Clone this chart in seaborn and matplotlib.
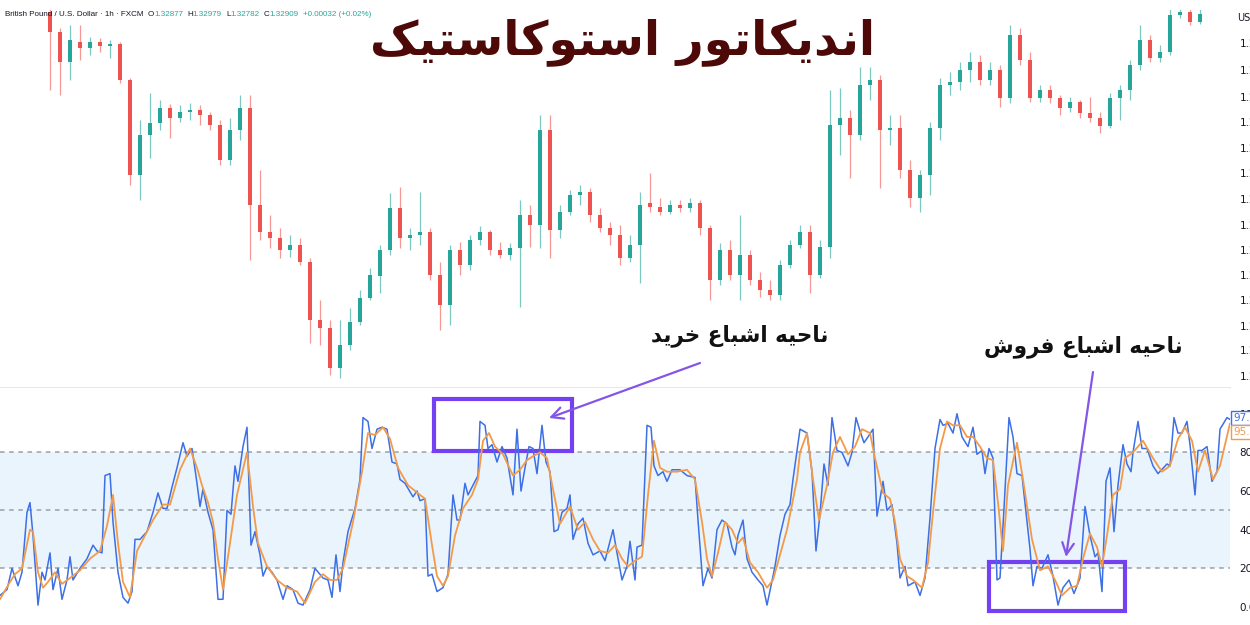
import numpy as np
import matplotlib
matplotlib.use("Agg")
import matplotlib.pyplot as plt
from matplotlib.patches import Rectangle
import seaborn as sns

# GBP/USD 1h candles (one candle per 2 bars of the original chart)
open_ = [1.2388, 1.2368, 1.2338, 1.2358, 1.2352, 1.2358, 1.2354, 1.2356, 1.2320, 1.2225,
         1.2265, 1.2277, 1.2292, 1.2282, 1.2288, 1.2290, 1.2285, 1.2275, 1.2240, 1.2270,
         1.2292, 1.2195, 1.2168, 1.2162, 1.2150, 1.2155, 1.2138, 1.2080, 1.2072, 1.2032,
         1.2055, 1.2078, 1.2102, 1.2124, 1.2150, 1.2192, 1.2162, 1.2165, 1.2168, 1.2125,
         1.2095, 1.2150, 1.2135, 1.2160, 1.2168, 1.2150, 1.2145, 1.2152, 1.2185, 1.2175,
         1.2270, 1.2170, 1.2188, 1.2205, 1.2208, 1.2185, 1.2172, 1.2165, 1.2142, 1.2155,
         1.2197, 1.2193, 1.2188, 1.2195, 1.2192, 1.2197, 1.2172, 1.2120, 1.2150, 1.2125,
         1.2145, 1.2120, 1.2110, 1.2105, 1.2135, 1.2155, 1.2168, 1.2125, 1.2153, 1.2275,
         1.2282, 1.2265, 1.2315, 1.2320, 1.2270, 1.2272, 1.2230, 1.2202, 1.2225, 1.2272,
         1.2315, 1.2318, 1.2330, 1.2338, 1.2320, 1.2330, 1.2302, 1.2365, 1.2340, 1.2302,
         1.2310, 1.2302, 1.2292, 1.2298, 1.2287, 1.2282, 1.2274, 1.2302, 1.2310, 1.2335,
         1.2360, 1.2342, 1.2348, 1.2385, 1.2388, 1.2378]
high = [1.2392, 1.2372, 1.2375, 1.2375, 1.2363, 1.2362, 1.2360, 1.2358, 1.2322, 1.2280,
        1.2307, 1.2300, 1.2296, 1.2295, 1.2297, 1.2295, 1.2288, 1.2280, 1.2282, 1.2305,
        1.2305, 1.2230, 1.2185, 1.2172, 1.2165, 1.2162, 1.2142, 1.2100, 1.2080, 1.2080,
        1.2092, 1.2110, 1.2132, 1.2155, 1.2207, 1.2213, 1.2172, 1.2208, 1.2172, 1.2138,
        1.2155, 1.2158, 1.2165, 1.2174, 1.2170, 1.2158, 1.2157, 1.2200, 1.2195, 1.2285,
        1.2285, 1.2195, 1.2210, 1.2215, 1.2212, 1.2192, 1.2178, 1.2175, 1.2165, 1.2208,
        1.2227, 1.2202, 1.2200, 1.2200, 1.2202, 1.2200, 1.2175, 1.2157, 1.2160, 1.2185,
        1.2150, 1.2128, 1.2120, 1.2140, 1.2160, 1.2175, 1.2175, 1.2160, 1.2310, 1.2312,
        1.2290, 1.2333, 1.2333, 1.2325, 1.2285, 1.2285, 1.2240, 1.2230, 1.2278, 1.2322,
        1.2328, 1.2338, 1.2348, 1.2345, 1.2338, 1.2335, 1.2375, 1.2372, 1.2348, 1.2315,
        1.2315, 1.2305, 1.2303, 1.2300, 1.2303, 1.2288, 1.2307, 1.2315, 1.2340, 1.2375,
        1.2365, 1.2355, 1.2395, 1.2395, 1.2395, 1.2392]
low = [1.2310, 1.2305, 1.2320, 1.2340, 1.2345, 1.2348, 1.2342, 1.2317, 1.2215, 1.2200,
       1.2242, 1.2270, 1.2262, 1.2278, 1.2280, 1.2275, 1.2270, 1.2235, 1.2235, 1.2260,
       1.2140, 1.2160, 1.2152, 1.2142, 1.2143, 1.2135, 1.2057, 1.2055, 1.2025, 1.2022,
       1.2050, 1.2075, 1.2100, 1.2107, 1.2145, 1.2152, 1.2150, 1.2155, 1.2120, 1.2070,
       1.2075, 1.2125, 1.2130, 1.2155, 1.2145, 1.2142, 1.2140, 1.2093, 1.2153, 1.2152,
       1.2142, 1.2162, 1.2185, 1.2195, 1.2178, 1.2168, 1.2155, 1.2135, 1.2138, 1.2117,
       1.2188, 1.2185, 1.2186, 1.2188, 1.2188, 1.2165, 1.2100, 1.2115, 1.2120, 1.2100,
       1.2115, 1.2103, 1.2100, 1.2100, 1.2132, 1.2152, 1.2107, 1.2122, 1.2142, 1.2245,
       1.2222, 1.2260, 1.2300, 1.2212, 1.2255, 1.2222, 1.2193, 1.2188, 1.2205, 1.2260,
       1.2305, 1.2310, 1.2318, 1.2315, 1.2315, 1.2293, 1.2297, 1.2335, 1.2298, 1.2298,
       1.2297, 1.2285, 1.2288, 1.2282, 1.2278, 1.2267, 1.2272, 1.2280, 1.2300, 1.2330,
       1.2338, 1.2338, 1.2345, 1.2382, 1.2375, 1.2376]
close = [1.2368, 1.2338, 1.2360, 1.2352, 1.2358, 1.2354, 1.2356, 1.2320, 1.2225, 1.2265,
         1.2277, 1.2292, 1.2282, 1.2288, 1.2290, 1.2285, 1.2275, 1.2240, 1.2270, 1.2292,
         1.2195, 1.2168, 1.2162, 1.2150, 1.2155, 1.2138, 1.2080, 1.2072, 1.2032, 1.2055,
         1.2078, 1.2102, 1.2125, 1.2150, 1.2192, 1.2162, 1.2165, 1.2168, 1.2125, 1.2095,
         1.2150, 1.2135, 1.2160, 1.2168, 1.2150, 1.2145, 1.2152, 1.2185, 1.2175, 1.2270,
         1.2170, 1.2188, 1.2205, 1.2208, 1.2185, 1.2172, 1.2165, 1.2142, 1.2155, 1.2195,
         1.2193, 1.2188, 1.2195, 1.2192, 1.2197, 1.2172, 1.2120, 1.2150, 1.2125, 1.2145,
         1.2120, 1.2110, 1.2105, 1.2135, 1.2155, 1.2168, 1.2125, 1.2153, 1.2275, 1.2282,
         1.2265, 1.2315, 1.2320, 1.2270, 1.2272, 1.2230, 1.2202, 1.2225, 1.2272, 1.2315,
         1.2318, 1.2330, 1.2338, 1.2320, 1.2330, 1.2302, 1.2365, 1.2340, 1.2302, 1.2310,
         1.2302, 1.2292, 1.2298, 1.2287, 1.2282, 1.2274, 1.2302, 1.2310, 1.2335, 1.2360,
         1.2342, 1.2348, 1.2385, 1.2388, 1.2378, 1.2386]
price_ticks = [1.2357, 1.2330, 1.2303, 1.2278, 1.2252, 1.2227, 1.2201, 1.2175, 1.2150,
               1.2125, 1.2100, 1.2074, 1.2050, 1.2024]

# Stochastic (14, 1, 3): %K (blue) and %D (orange), time in candle units
k_time = [-5.0, -4.3, -3.8, -3.2, -2.8, -2.3, -2.0, -1.7, -1.3, -1.2,
          -0.8, -0.5, 0.0, 0.3, 0.8, 1.2, 1.7, 2.0, 2.3, 3.0,
          3.7, 4.3, 4.7, 5.2, 5.5, 6.0, 6.3, 6.8, 7.3, 7.8,
          8.2, 8.5, 9.0, 9.7, 10.3, 10.8, 11.3, 11.7, 12.2, 12.7,
          13.3, 13.7, 14.2, 14.7, 15.0, 15.3, 15.8, 16.3, 16.8, 17.3,
          17.7, 18.1, 18.5, 18.8, 19.3, 19.7, 20.1, 20.5, 21.0, 21.3,
          21.7, 22.2, 22.7, 23.3, 23.7, 24.3, 24.8, 25.3, 26.0, 26.5,
          27.3, 27.8, 28.2, 28.6, 29.0, 29.3, 29.8, 30.5, 31.0, 31.3,
          31.8, 32.2, 32.7, 33.2, 33.7, 34.2, 34.7, 35.0, 35.5, 36.3,
          36.7, 37.0, 37.5, 37.8, 38.2, 38.7, 39.3, 39.8, 40.3, 40.7,
          41.0, 41.5, 41.8, 42.3, 42.8, 43.0, 43.5, 43.8, 44.2, 44.7,
          45.2, 45.7, 46.3, 46.7, 47.1, 47.5, 47.9, 48.3, 48.7, 49.2,
          49.6, 50.0, 50.4, 50.8, 51.2, 51.7, 52.0, 52.3, 52.8, 53.3,
          53.8, 54.3, 55.0, 55.5, 56.3, 56.7, 57.2, 57.7, 58.0, 58.5,
          58.7, 59.2, 59.7, 60.1, 60.4, 60.8, 61.3, 61.7, 62.2, 63.0,
          63.7, 64.5, 64.8, 65.3, 65.8, 66.2, 66.7, 67.2, 67.7, 68.2,
          68.5, 68.8, 69.3, 69.7, 70.2, 70.8, 71.3, 71.7, 72.1, 72.5,
          73.0, 73.5, 74.0, 74.3, 75.0, 75.7, 76.2, 76.6, 77.0, 77.4,
          77.8, 78.2, 78.7, 79.2, 79.8, 80.2, 80.6, 81.0, 81.4, 81.8,
          82.3, 82.7, 83.3, 83.7, 84.2, 84.7, 85.0, 85.5, 85.8, 86.5,
          87.0, 87.5, 88.0, 88.5, 89.0, 89.3, 89.8, 90.3, 90.7, 91.2,
          91.8, 92.3, 92.7, 93.2, 93.5, 93.9, 94.3, 94.7, 95.0, 95.4,
          95.9, 96.3, 96.7, 97.2, 98.0, 98.3, 98.7, 99.2, 99.8, 100.3,
          100.8, 101.3, 101.9, 102.4, 103.0, 103.5, 104.0, 104.5, 104.8, 105.2,
          105.6, 106.0, 106.4, 106.8, 107.3, 107.7, 108.1, 108.3, 108.8, 109.2,
          109.7, 110.3, 110.8, 111.7, 112.0, 112.4, 112.8, 113.2, 113.7, 114.0,
          114.5, 114.8, 115.2, 115.7, 116.2, 116.7, 117.0, 117.7, 118.0]
k_val = [6, 9, 20, 11, 18, 49, 54, 37, 8, 1,
         18, 14, 28, 9, 20, 4, 14, 26, 14, 20,
         25, 32, 29, 28, 68, 69, 44, 18, 5, 2,
         8, 35, 35, 39, 49, 59, 51, 51, 62, 72,
         85, 78, 82, 64, 52, 61, 49, 40, 4, 4,
         50, 48, 73, 65, 83, 93, 32, 39, 27, 16,
         21, 18, 14, 4, 11, 9, 2, 1, 9, 20,
         15, 14, 5, 27, 8, 23, 39, 51, 66, 98,
         96, 82, 92, 93, 92, 75, 74, 66, 64, 57,
         60, 55, 56, 16, 17, 8, 10, 17, 58, 45,
         45, 64, 58, 63, 68, 96, 94, 82, 84, 75,
         83, 77, 58, 92, 60, 72, 83, 82, 69, 94,
         75, 70, 39, 40, 49, 51, 58, 35, 43, 46,
         33, 27, 29, 24, 40, 28, 14, 21, 34, 14,
         31, 32, 94, 93, 73, 68, 70, 65, 71, 71,
         68, 67, 45, 11, 20, 15, 40, 45, 43, 31,
         27, 37, 45, 25, 18, 14, 11, 1, 11, 21,
         37, 48, 53, 66, 92, 90, 70, 29, 48, 74,
         63, 98, 81, 80, 73, 80, 98, 91, 85, 88,
         92, 47, 65, 50, 53, 33, 15, 21, 11, 13,
         6, 15, 46, 82, 97, 94, 95, 90, 100, 88,
         83, 93, 79, 81, 69, 82, 77, 14, 15, 51,
         98, 88, 69, 68, 30, 11, 21, 20, 27, 16,
         1, 10, 14, 7, 15, 52, 37, 26, 28, 8,
         65, 72, 39, 63, 84, 74, 70, 80, 96, 82,
         82, 73, 69, 74, 73, 98, 90, 90, 96, 84,
         58, 81, 81, 83, 65, 70, 92, 98, 97]
d_time = [-5.0, -4.0, -3.5, -2.8, -2.0, -1.7, -1.2, -0.7, -0.2, 0.5,
          1.2, 2.0, 3.0, 4.0, 5.0, 5.7, 6.3, 6.8, 7.3, 8.0,
          8.7, 9.3, 10.3, 11.3, 12.0, 13.0, 14.0, 14.7, 15.2, 15.8,
          16.3, 16.8, 17.3, 18.0, 18.7, 19.7, 20.3, 20.8, 21.7, 22.7,
          23.7, 24.7, 25.5, 26.5, 27.3, 28.0, 28.7, 29.3, 30.3, 31.2,
          31.8, 32.5, 33.3, 34.0, 34.8, 35.8, 37.0, 37.5, 38.2, 38.7,
          39.3, 39.8, 40.5, 41.3, 42.2, 42.8, 43.3, 43.9, 44.5, 45.3,
          46.3, 47.0, 47.7, 48.3, 49.0, 49.7, 50.3, 51.0, 52.0, 52.8,
          53.5, 54.3, 55.0, 55.8, 56.5, 57.2, 57.8, 58.5, 59.2, 59.8,
          60.4, 61.0, 61.7, 62.7, 63.7, 64.5, 65.2, 65.7, 66.2, 66.8,
          67.5, 68.2, 68.8, 69.3, 70.0, 70.8, 71.7, 72.3, 73.0, 73.7,
          74.7, 75.0, 75.7, 76.3, 76.9, 77.7, 78.3, 79.0, 79.8, 80.5,
          81.2, 82.0, 82.5, 83.3, 84.0, 84.5, 85.0, 85.7, 86.3, 87.2,
          87.8, 88.3, 89.0, 89.7, 90.3, 91.0, 91.7, 92.3, 93.0, 93.7,
          94.3, 94.8, 95.3, 95.8, 96.7, 97.3, 98.2, 99.0, 99.8, 100.5,
          101.2, 102.0, 102.7, 103.3, 104.0, 104.7, 105.2, 105.7, 106.3, 107.0,
          107.5, 108.3, 109.3, 110.3, 111.2, 112.0, 112.8, 113.5, 114.2, 114.8,
          115.5, 116.3, 117.0, 118.0]
d_val = [4, 13, 17, 20, 40, 39, 18, 10, 13, 18,
         12, 15, 19, 25, 29, 42, 58, 33, 13, 5,
         29, 35, 45, 53, 53, 71, 82, 72, 63, 54,
         44, 25, 9, 33, 58, 80, 52, 33, 21, 14,
         10, 8, 2, 13, 17, 14, 14, 20, 44, 70,
         90, 89, 93, 87, 72, 63, 58, 56, 32, 16,
         11, 16, 37, 51, 58, 66, 86, 90, 83, 79,
         68, 71, 76, 78, 80, 77, 61, 43, 52, 40,
         44, 35, 29, 28, 32, 25, 21, 24, 26, 58,
         86, 72, 70, 70, 71, 66, 44, 25, 16, 28,
         44, 40, 33, 36, 23, 18, 10, 14, 27, 40,
         66, 80, 90, 66, 45, 63, 80, 88, 79, 83,
         92, 90, 77, 59, 56, 44, 25, 16, 14, 10,
         23, 49, 82, 96, 94, 94, 88, 88, 83, 77,
         76, 54, 29, 63, 85, 66, 35, 19, 21, 14,
         6, 10, 11, 25, 38, 31, 21, 37, 58, 61,
         77, 80, 86, 77, 70, 73, 87, 93, 86, 70,
         81, 66, 73, 95]
stoch_ticks = [0, 20, 40, 60, 80, 100]

GREEN = "#26a69a"
RED = "#ef5350"
BLUE = "#3d6fe6"
ORANGE = "#f39a48"
PURPLE = "#7441f2"
DARK = "#131722"

# letters forms: isolated, final, initial, medial (None = does not join forward)
FORMS = {
    "ا": ("\uFE8D", "\uFE8E", None, None),
    "ب": ("\uFE8F", "\uFE90", "\uFE91", "\uFE92"),
    "ت": ("\uFE95", "\uFE96", "\uFE97", "\uFE98"),
    "ح": ("\uFEA1", "\uFEA2", "\uFEA3", "\uFEA4"),
    "خ": ("\uFEA5", "\uFEA6", "\uFEA7", "\uFEA8"),
    "د": ("\uFEA9", "\uFEAA", None, None),
    "ر": ("\uFEAD", "\uFEAE", None, None),
    "س": ("\uFEB1", "\uFEB2", "\uFEB3", "\uFEB4"),
    "ش": ("\uFEB5", "\uFEB6", "\uFEB7", "\uFEB8"),
    "ع": ("\uFEC9", "\uFECA", "\uFECB", "\uFECC"),
    "ف": ("\uFED1", "\uFED2", "\uFED3", "\uFED4"),
    "ن": ("\uFEE5", "\uFEE6", "\uFEE7", "\uFEE8"),
    "ه": ("\uFEE9", "\uFEEA", "\uFEEB", "\uFEEC"),
    "و": ("\uFEED", "\uFEEE", None, None),
    "ی": ("\uFBFC", "\uFBFD", "\uFBFE", "\uFBFF"),
    "ک": ("\uFB8E", "\uFB8F", "\uFB90", "\uFB91"),
}


def shape(text):
    # matplotlib has no RTL shaping, so pick the joined glyphs and reverse
    out = []
    for i, ch in enumerate(text):
        if ch not in FORMS:
            out.append(ch)
            continue
        prev = text[i - 1] if i > 0 else " "
        nxt = text[i + 1] if i + 1 < len(text) else " "
        join_prev = prev in FORMS and FORMS[prev][2] is not None
        join_next = FORMS[ch][2] is not None and nxt in FORMS
        iso, fin, ini, med = FORMS[ch]
        if join_prev and join_next:
            out.append(med)
        elif join_prev:
            out.append(fin)
        elif join_next:
            out.append(ini)
        else:
            out.append(iso)
    return "".join(out[::-1])


sns.set_theme(style="white")
plt.rcParams["font.family"] = ["DejaVu Sans"]

fig = plt.figure(figsize=(12.5, 6.25), dpi=100)
ax1 = fig.add_axes([0, 237 / 625, 1230 / 1250, 378 / 625])
ax2 = fig.add_axes([0, 0, 1230 / 1250, 237 / 625])

# price candles
t = np.arange(len(close))
o = np.array(open_)
c = np.array(close)
cols = np.where(c >= o, GREEN, RED)
ax1.vlines(t, low, high, colors=cols, lw=0.9, alpha=0.6)
ax1.bar(t, np.maximum(np.abs(c - o), 0.00008), bottom=np.minimum(o, c), width=0.42,
        color=cols, linewidth=0)
ax1.set_xlim(-5, 118)
ax1.set_ylim(1.2012, 1.2390)
ax1.yaxis.tick_right()
ax1.set_yticks(price_ticks)
ax1.set_yticklabels([f"{p:.4f}" for p in price_ticks])
ax1.set_xticks([])
ax1.tick_params(axis="y", length=0, pad=7, labelsize=7.5, colors=DARK)
for s in ["top", "left", "right"]:
    ax1.spines[s].set_visible(False)
ax1.spines["bottom"].set_color("#e0e3eb")
ax1.spines["bottom"].set_linewidth(1.2)

# stochastic panel
ax2.axhspan(20, 80, color="#e9f4fc", zorder=0, lw=0)
for lvl in (80, 50, 20):
    ax2.axhline(lvl, color="#9aa0a6", lw=1.1, ls=(0, (3, 3)), zorder=1)
sns.lineplot(x=k_time, y=k_val, ax=ax2, color=BLUE, lw=1.1, estimator=None, sort=False)
sns.lineplot(x=d_time, y=d_val, ax=ax2, color=ORANGE, lw=1.3, estimator=None, sort=False)
ax2.set_xlim(-5, 118)
ax2.set_ylim(-9.3, 113.3)
ax2.set_xlabel("")
ax2.set_ylabel("")
ax2.set_xticks([])
ax2.yaxis.tick_right()
ax2.set_yticks(stoch_ticks)
ax2.set_yticklabels([f"{v:.2f}" for v in stoch_ticks])
ax2.tick_params(axis="y", length=0, pad=7, labelsize=7.5, colors=DARK)
for s in ax2.spines.values():
    s.set_visible(False)

# last value tags
fig.text(1233 / 1250, 1 - 418 / 625, "97.42", color=BLUE, fontsize=7.5, va="center",
         bbox=dict(boxstyle="square,pad=0.2", fc="white", ec=BLUE, lw=1))
fig.text(1233 / 1250, 1 - 432 / 625, "95.05", color=ORANGE, fontsize=7.5, va="center",
         bbox=dict(boxstyle="square,pad=0.2", fc="white", ec=ORANGE, lw=1))
fig.text(1237 / 1250, 1 - 18 / 625, "USD", color=DARK, fontsize=7, va="center")


def chain(x, y, parts, size):
    prev = ax1.text(x, y, parts[0][0], color=parts[0][1], fontsize=size, va="center",
                    family="Liberation Sans", transform=fig.transFigure)
    for txt, col, gap in parts[1:]:
        prev = ax1.annotate(txt, xy=(1, 0.5), xycoords=prev, xytext=(gap, 0),
                            textcoords="offset points", color=col, fontsize=size,
                            va="center", family="Liberation Sans", annotation_clip=False)


chain(5 / 1250, 1 - 15 / 625, [
    ("British Pound / U.S. Dollar · 1h · FXCM", DARK),
    ("O", DARK, 3), ("1.32877", GREEN, 0),
    ("H", DARK, 3), ("1.32979", GREEN, 0),
    ("L", DARK, 3), ("1.32782", GREEN, 0),
    ("C", DARK, 3), ("1.32909", GREEN, 0),
    ("+0.00032 (+0.02%)", GREEN, 3)], 5.8)
chain(5 / 1250, 1 - 402 / 625, [
    ("Stoch (14, 1, 3)", DARK), ("85.83", BLUE, 3), ("90.97", ORANGE, 3)], 6.2)

# title and annotations
fig.text(623 / 1250, 1 - 42 / 625, shape("اندیکاتور استوکاستیک"), fontsize=34,
         fontweight="bold", color="#4d0808", ha="center", va="center")
fig.text(740 / 1250, 1 - 336 / 625, shape("ناحیه اشباع خرید"), fontsize=15.5,
         fontweight="bold", color="#111111", ha="center", va="center")
fig.text(1083 / 1250, 1 - 347 / 625, shape("ناحیه اشباع فروش"), fontsize=15.5,
         fontweight="bold", color="#111111", ha="center", va="center")

ax2.add_patch(Rectangle((38.4, 80.7), 13.8, 26.9, fill=False, ec=PURPLE, lw=3, clip_on=False))
ax2.add_patch(Rectangle((93.9, -2.1), 13.6, 25.4, fill=False, ec=PURPLE, lw=3, clip_on=False))
arrow = dict(arrowstyle="->,head_length=0.7,head_width=0.35", color="#8456e8", lw=1.6,
             shrinkA=0, shrinkB=0)
ax2.annotate("", xy=(49.9, 97.8), xytext=(700 / 1250, 1 - 363 / 625),
             textcoords="figure fraction", arrowprops=arrow, annotation_clip=False)
ax2.annotate("", xy=(101.6, 25.9), xytext=(1093 / 1250, 1 - 372 / 625),
             textcoords="figure fraction", arrowprops=arrow, annotation_clip=False)

fig.savefig("out.png", dpi=100)
